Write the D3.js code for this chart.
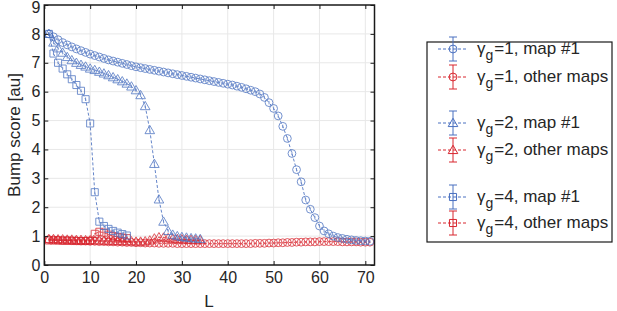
<!DOCTYPE html>
<html><head><meta charset="utf-8">
<script src="https://cdn.jsdelivr.net/npm/d3@7"></script>
<style>body{margin:0;background:#fff}svg{display:block}text{font-family:"Liberation Sans",Arial,sans-serif;fill:#262626}</style>
</head><body><svg id="c" width="617" height="311"></svg>
<script>
const xTicks=[0,10,20,30,40,50,60,70];
const yTicks=[0,1,2,3,4,5,6,7,8,9];
const g1Map1=[8.0,7.9,7.8,7.7,7.62,7.55,7.48,7.42,7.36,7.3,7.25,7.2,7.15,7.1,7.06,7.02,6.98,6.94,6.9,6.86,6.83,6.8,6.77,6.74,6.71,6.68,6.65,6.62,6.59,6.56,6.53,6.5,6.47,6.44,6.41,6.38,6.35,6.32,6.29,6.26,6.23,6.19,6.15,6.1,6.05,6.0,5.92,5.8,5.62,5.42,5.16,4.8,4.38,3.86,3.3,2.88,2.25,1.93,1.64,1.35,1.18,1.08,1.0,0.95,0.92,0.89,0.87,0.85,0.84,0.83,0.82];
const g1Other=[0.88,0.87,0.86,0.85,0.85,0.84,0.84,0.83,0.83,0.82,0.82,0.81,0.81,0.8,0.8,0.79,0.79,0.78,0.78,0.77,0.77,0.76,0.76,0.76,0.75,0.75,0.75,0.75,0.74,0.74,0.74,0.74,0.74,0.74,0.74,0.74,0.74,0.74,0.74,0.74,0.74,0.74,0.74,0.74,0.74,0.75,0.75,0.75,0.76,0.76,0.77,0.77,0.78,0.78,0.79,0.79,0.8,0.8,0.8,0.81,0.81,0.81,0.81,0.81,0.8,0.8,0.8,0.8,0.79,0.79,0.79];
const g2Map1=[8.0,7.7,7.5,7.35,7.2,7.09,7.0,6.93,6.87,6.8,6.75,6.69,6.63,6.57,6.5,6.43,6.36,6.28,6.18,6.05,5.88,5.5,4.67,3.5,2.27,1.5,1.18,1.05,1.0,0.97,0.95,0.93,0.92,0.9];
const g2Other=[0.9,0.9,0.89,0.89,0.88,0.88,0.87,0.87,0.86,0.86,0.85,0.85,0.84,0.84,0.83,0.83,0.82,0.82,0.82,0.81,0.81,0.82,0.85,0.92,0.96,0.95,0.93,0.91,0.9,0.89,0.88,0.87,0.86,0.86];
const g4Map1=[8.0,7.32,7.0,6.8,6.6,6.43,6.23,6.03,5.74,4.9,2.52,1.5,1.35,1.25,1.18,1.12,1.07,1.02];
const g4Other=[0.85,0.85,0.85,0.84,0.84,0.84,0.83,0.83,0.83,0.84,1.08,1.15,1.12,1.05,1.0,0.97,0.95,0.93];
const legendLabels=[["1","map #1"],["1","other maps"],["2","map #1"],["2","other maps"],["4","map #1"],["4","other maps"]];

const blue="#4a70c0", red="#d8262f";
const svg=d3.select("#c");
const L=44.3,R=374.5,T=5,B=265;
const x=d3.scaleLinear().domain([0,72]).range([L,R]);
const y=d3.scaleLinear().domain([0,9]).range([B,T]);

// grid
svg.append("g").selectAll("line").data(xTicks.slice(1)).join("line")
 .attr("x1",d=>x(d)).attr("x2",d=>x(d)).attr("y1",T).attr("y2",B).attr("stroke","#e8e8e8");
svg.append("g").selectAll("line").data(yTicks.slice(1,-1)).join("line")
 .attr("y1",d=>y(d)).attr("y2",d=>y(d)).attr("x1",L).attr("x2",R).attr("stroke","#e8e8e8");

const series=[
 {d:g1Other,c:red,m:"circle",e:0.03},
 {d:g2Other,c:red,m:"triangle",e:0.03},
 {d:g4Other,c:red,m:"square",e:0.03},
 {d:g1Map1,c:blue,m:"circle",e:0.06},
 {d:g2Map1,c:blue,m:"triangle",e:0.06},
 {d:g4Map1,c:blue,m:"square",e:0.06}
];
const sym={circle:d3.symbol(d3.symbolCircle,48),triangle:d3.symbol(d3.symbolTriangle,40),square:d3.symbol(d3.symbolSquare,50)};
svg.append("clipPath").attr("id","cp").append("rect").attr("x",L).attr("y",T).attr("width",R-L).attr("height",B-T);
const plot=svg.append("g").attr("clip-path","url(#cp)");
const line=d3.line().x((d,i)=>x(i+1)).y(d=>y(d));
series.forEach(s=>{
  const g=plot.append("g").attr("opacity",0.85);
  g.append("path").attr("d",line(s.d)).attr("fill","none").attr("stroke",s.c).attr("stroke-width",1).attr("stroke-dasharray","3,2");
  const pts=g.selectAll(".p").data(s.d).join("g").attr("transform",(d,i)=>`translate(${x(i+1)},${y(d)})`);
  pts.append("line").attr("y1",d=>y(d+s.e)-y(d)).attr("y2",d=>y(d-s.e)-y(d)).attr("stroke",s.c).attr("stroke-width",0.8);
  pts.append("path").attr("d",sym[s.m]()).attr("transform",s.m==="triangle"?"translate(0,0.8)":null).attr("fill","none").attr("stroke",s.c).attr("stroke-width",0.9);
});

// axes box
svg.append("rect").attr("x",L).attr("y",T).attr("width",R-L).attr("height",B-T).attr("fill","none").attr("stroke","#1a1a1a").attr("stroke-width",1.5);
const axg=svg.append("g").attr("transform",`translate(0,${B})`).call(d3.axisBottom(x).tickValues(xTicks).tickSize(-4).tickPadding(7));
axg.select(".domain").remove();
svg.append("g").attr("transform",`translate(0,${T})`).call(d3.axisTop(x).tickValues(xTicks).tickSize(-4).tickFormat("")).select(".domain").remove();
const ayg=svg.append("g").attr("transform",`translate(${L},0)`).call(d3.axisLeft(y).tickValues(yTicks).tickSize(-4).tickPadding(4));
ayg.select(".domain").remove();
svg.append("g").attr("transform",`translate(${R},0)`).call(d3.axisRight(y).tickValues(yTicks).tickSize(-4).tickFormat("")).select(".domain").remove();
svg.selectAll(".tick line").attr("stroke","#1a1a1a");
svg.selectAll(".tick text").style("font-size","16px").style("font-family","'Liberation Sans',Arial,sans-serif").attr("fill","#333");
ayg.selectAll(".tick").filter(d=>d===9).select("text").attr("dy","0.45em");

svg.append("text").attr("x",209).attr("y",307).attr("text-anchor","middle").style("font-size","17px").text("L");
svg.append("text").attr("transform","translate(20,135) rotate(-90)").attr("text-anchor","middle").style("font-size","17px").text("Bump score [au]");

// legend
const lg=svg.append("g");
lg.append("rect").attr("x",427).attr("y",42).attr("width",185).attr("height",200).attr("fill","#fff").attr("stroke","#1a1a1a").attr("stroke-width",1.2);
const rows=[49,77,123,150,197,223];
const ms=["circle","circle","triangle","triangle","square","square"];
legendLabels.forEach((lab,i)=>{
  const c=i%2===0?blue:red, yy=rows[i];
  const g=lg.append("g");
  g.append("line").attr("x1",438).attr("x2",467).attr("y1",yy).attr("y2",yy).attr("stroke",c).attr("stroke-dasharray","3,2");
  g.append("line").attr("x1",453).attr("x2",453).attr("y1",yy-12).attr("y2",yy+12).attr("stroke",c);
  g.append("line").attr("x1",449).attr("x2",457).attr("y1",yy-12).attr("y2",yy-12).attr("stroke",c);
  g.append("line").attr("x1",449).attr("x2",457).attr("y1",yy+12).attr("y2",yy+12).attr("stroke",c);
  g.append("path").attr("transform",`translate(453,${yy+(ms[i]==="triangle"?0.8:0)})`).attr("d",sym[ms[i]]()).attr("fill","none").attr("stroke",c);
  const t=g.append("text").attr("x",477).attr("y",yy+5).style("font-size","17px");
  t.append("tspan").text("γ");
  t.append("tspan").attr("dy",6).style("font-size","14px").text("g");
  t.append("tspan").attr("dy",-6).attr("dx",1).text("=");
  t.append("tspan").text(lab[0]+", "+lab[1]);
});
</script></body></html>
